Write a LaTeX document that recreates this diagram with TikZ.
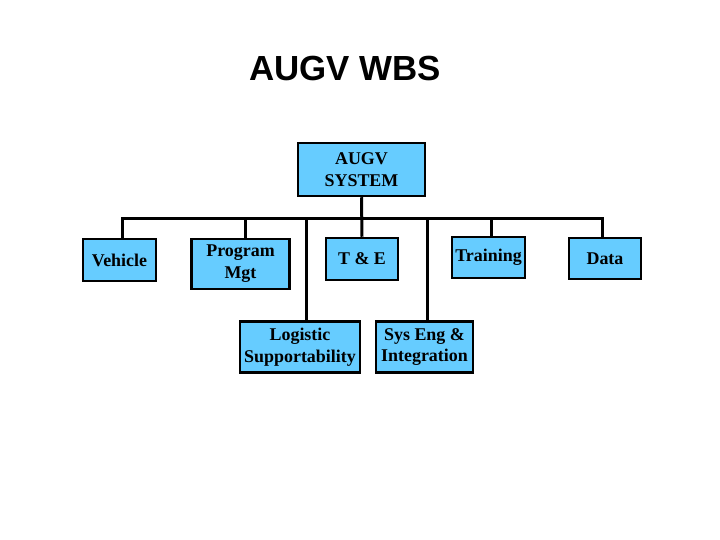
\documentclass[tikz,border=0pt]{standalone}
\usepackage{fontspec}
\setmainfont{Liberation Serif}
\setsansfont{Liberation Sans}
\usetikzlibrary{positioning}
\definecolor{boxblue}{RGB}{102,204,255}
\tikzset{%
  % Specifications for style of nodes:
  box/.style = {rectangle, draw=black, line width=2.5bp, fill=boxblue,
                inner sep=0pt, align=center,
                font=\bfseries\fontsize{18}{22}\selectfont},
  title/.style = {font=\sffamily\bfseries\fontsize{35}{38}\selectfont},
  wire/.style = {line width=3bp}
}

\begin{document}
\begin{tikzpicture}[x=1bp, y=-1bp]
\useasboundingbox (0,0) rectangle (720,540);
\node[title] (head) at (345,68) {AUGV WBS};
% top box
\node[box, minimum width=127bp, minimum height=53bp] (sys) at (361.5,169.5) {AUGV\\SYSTEM};
% first row
\node[box, minimum width=73bp, minimum height=42bp] (vehicle) at (119.5,260) {Vehicle};
\node[box, minimum width=98bp, minimum height=50bp] (prog) at (240.5,264) {Program\\Mgt};
\node[box, minimum width=72bp, minimum height=42bp] (te) at (362,259) {T \& E};
\node[box, minimum width=73bp, minimum height=41bp] (train) at (488.5,257.5) {Training};
\node[box, minimum width=72bp, minimum height=41bp] (data) at (605,258.5) {Data};
% second row
\node[box, minimum width=120bp, minimum height=51bp] (logist) at (300,347) {Logistic\\Supportability};
\node[box, minimum width=97bp, minimum height=51bp] (syseng) at (424.5,347) {Sys Eng \&\\Integration};
\coordinate (bus) at (361.5,219);
\draw[wire] ([xshift=2.5bp]vehicle.north) |- (bus) -| ([xshift=-3bp]data.north);
\draw[wire] (sys.south) -- (te.north);
\draw[wire] ([xshift=4.5bp]prog.north) -- ([xshift=4.5bp]prog.north |- bus);
\draw[wire] ([xshift=2.5bp]train.north) -- ([xshift=2.5bp]train.north |- bus);
\draw[wire] ([xshift=6bp]logist.north) -- ([xshift=6bp]logist.north |- bus);
\draw[wire] ([xshift=2.5bp]syseng.north) -- ([xshift=2.5bp]syseng.north |- bus);
\end{tikzpicture}
\end{document}
